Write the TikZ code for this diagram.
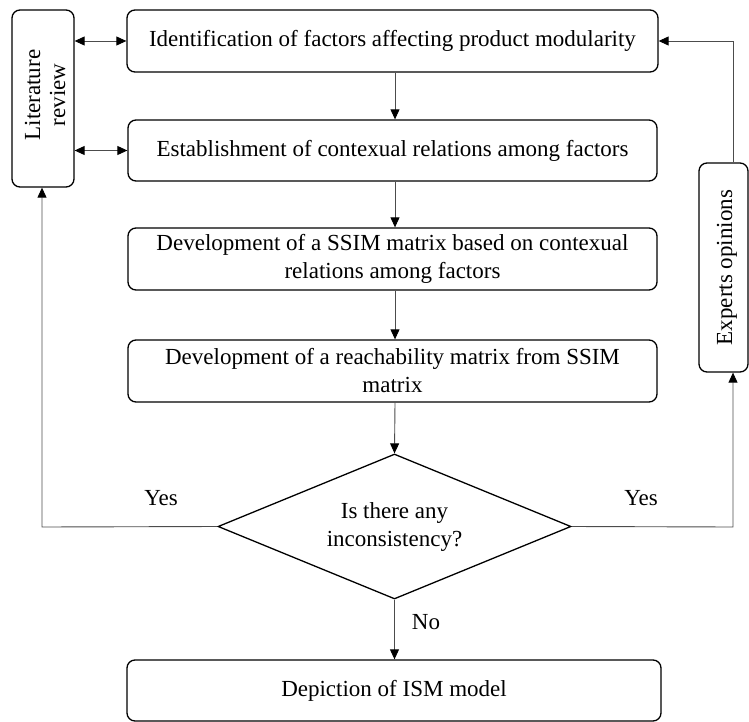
\documentclass[tikz,border=0pt]{standalone}
\usepackage{fontspec}
\setmainfont{Liberation Serif}
\usetikzlibrary{arrows.meta,shapes.geometric}
\begin{document}
\begin{tikzpicture}[x=1pt,y=-1pt,
  box/.style={draw,line width=1.3pt,rounded corners=8pt,inner sep=0pt,font=\fontsize{23}{28}\selectfont,align=center},
  conn/.style={line width=0.9pt,draw=black!70,-{Triangle[length=10pt,width=9pt,color=black,fill=black]}},
  dconn/.style={line width=0.9pt,draw=black!70,{Triangle[length=10pt,width=9pt,color=black,fill=black]}-{Triangle[length=10pt,width=9pt,color=black,fill=black]}},
  lbl/.style={font=\fontsize{23}{28}\selectfont}]
\useasboundingbox (0,0) rectangle (749,722);
\node[box,minimum width=531pt,minimum height=62pt] (b1) at (392.5,41) {Identification of factors affecting product modularity};
\node[box,minimum width=529pt,minimum height=61pt] (b2) at (392.5,150.5) {Establishment of contexual relations among factors};
\node[box,minimum width=529pt,minimum height=62pt] (b3) at (392.5,259) {Development of a SSIM matrix based on contexual\\relations among factors};
\node[box,minimum width=529pt,minimum height=62pt] (b4) at (392.5,371) {Development of a reachability matrix from SSIM\\matrix};
\node[draw,line width=1.3pt,diamond,aspect=2.43,minimum width=353pt,minimum height=145pt,inner sep=0pt,font=\fontsize{23}{28}\selectfont,align=center] (d) at (394.5,526.5) {Is there any\\inconsistency?};
\node[box,minimum width=534pt,minimum height=61pt] (b5) at (394,690.5) {Depiction of ISM model};
\node[box,minimum width=62pt,minimum height=177pt] (lit) at (43,98.5) {};
\node[font=\fontsize{23}{25}\selectfont,align=center,rotate=90] (littext) at (45,95) {Literature\\review};
\node[box,minimum width=49pt,minimum height=209pt] (exp) at (723.5,267.5) {};
\node[font=\fontsize{23}{28}\selectfont,rotate=90] (exptext) at (727,267.5) {Experts opinions};
\draw[conn] (b1.south -| 395,0) -- (b2.north -| 395,0);
\draw[conn] (b2.south -| 395,0) -- (b3.north -| 395,0);
\draw[conn] (b3.south -| 395,0) -- (b4.north -| 395,0);
\draw[conn] (b4.south -| 395,0) -- (d.north);
\draw[conn] (d.south) -- (b5.north -| d.south);
\draw[dconn] (lit.east |- b1.west) -- (b1.west);
\draw[dconn] (lit.east |- b2.west) -- (b2.west);
\coordinate (lc) at (42,527);
\coordinate (rc) at (733,527);
\coordinate (tc) at (733,41);
\draw[conn] (d.west) -- (lc) -- (lit.south -| lc);
\draw[conn] (d.east) -- (rc) -- (exp.south -| rc);
\draw[conn] (exp.north -| tc) -- (tc) -- (b1.east);
\node[lbl] (yl) at (161,498) {Yes};
\node[lbl] (yr) at (641,498) {Yes};
\node[lbl] (no) at (426,622) {No};
\end{tikzpicture}
\end{document}
